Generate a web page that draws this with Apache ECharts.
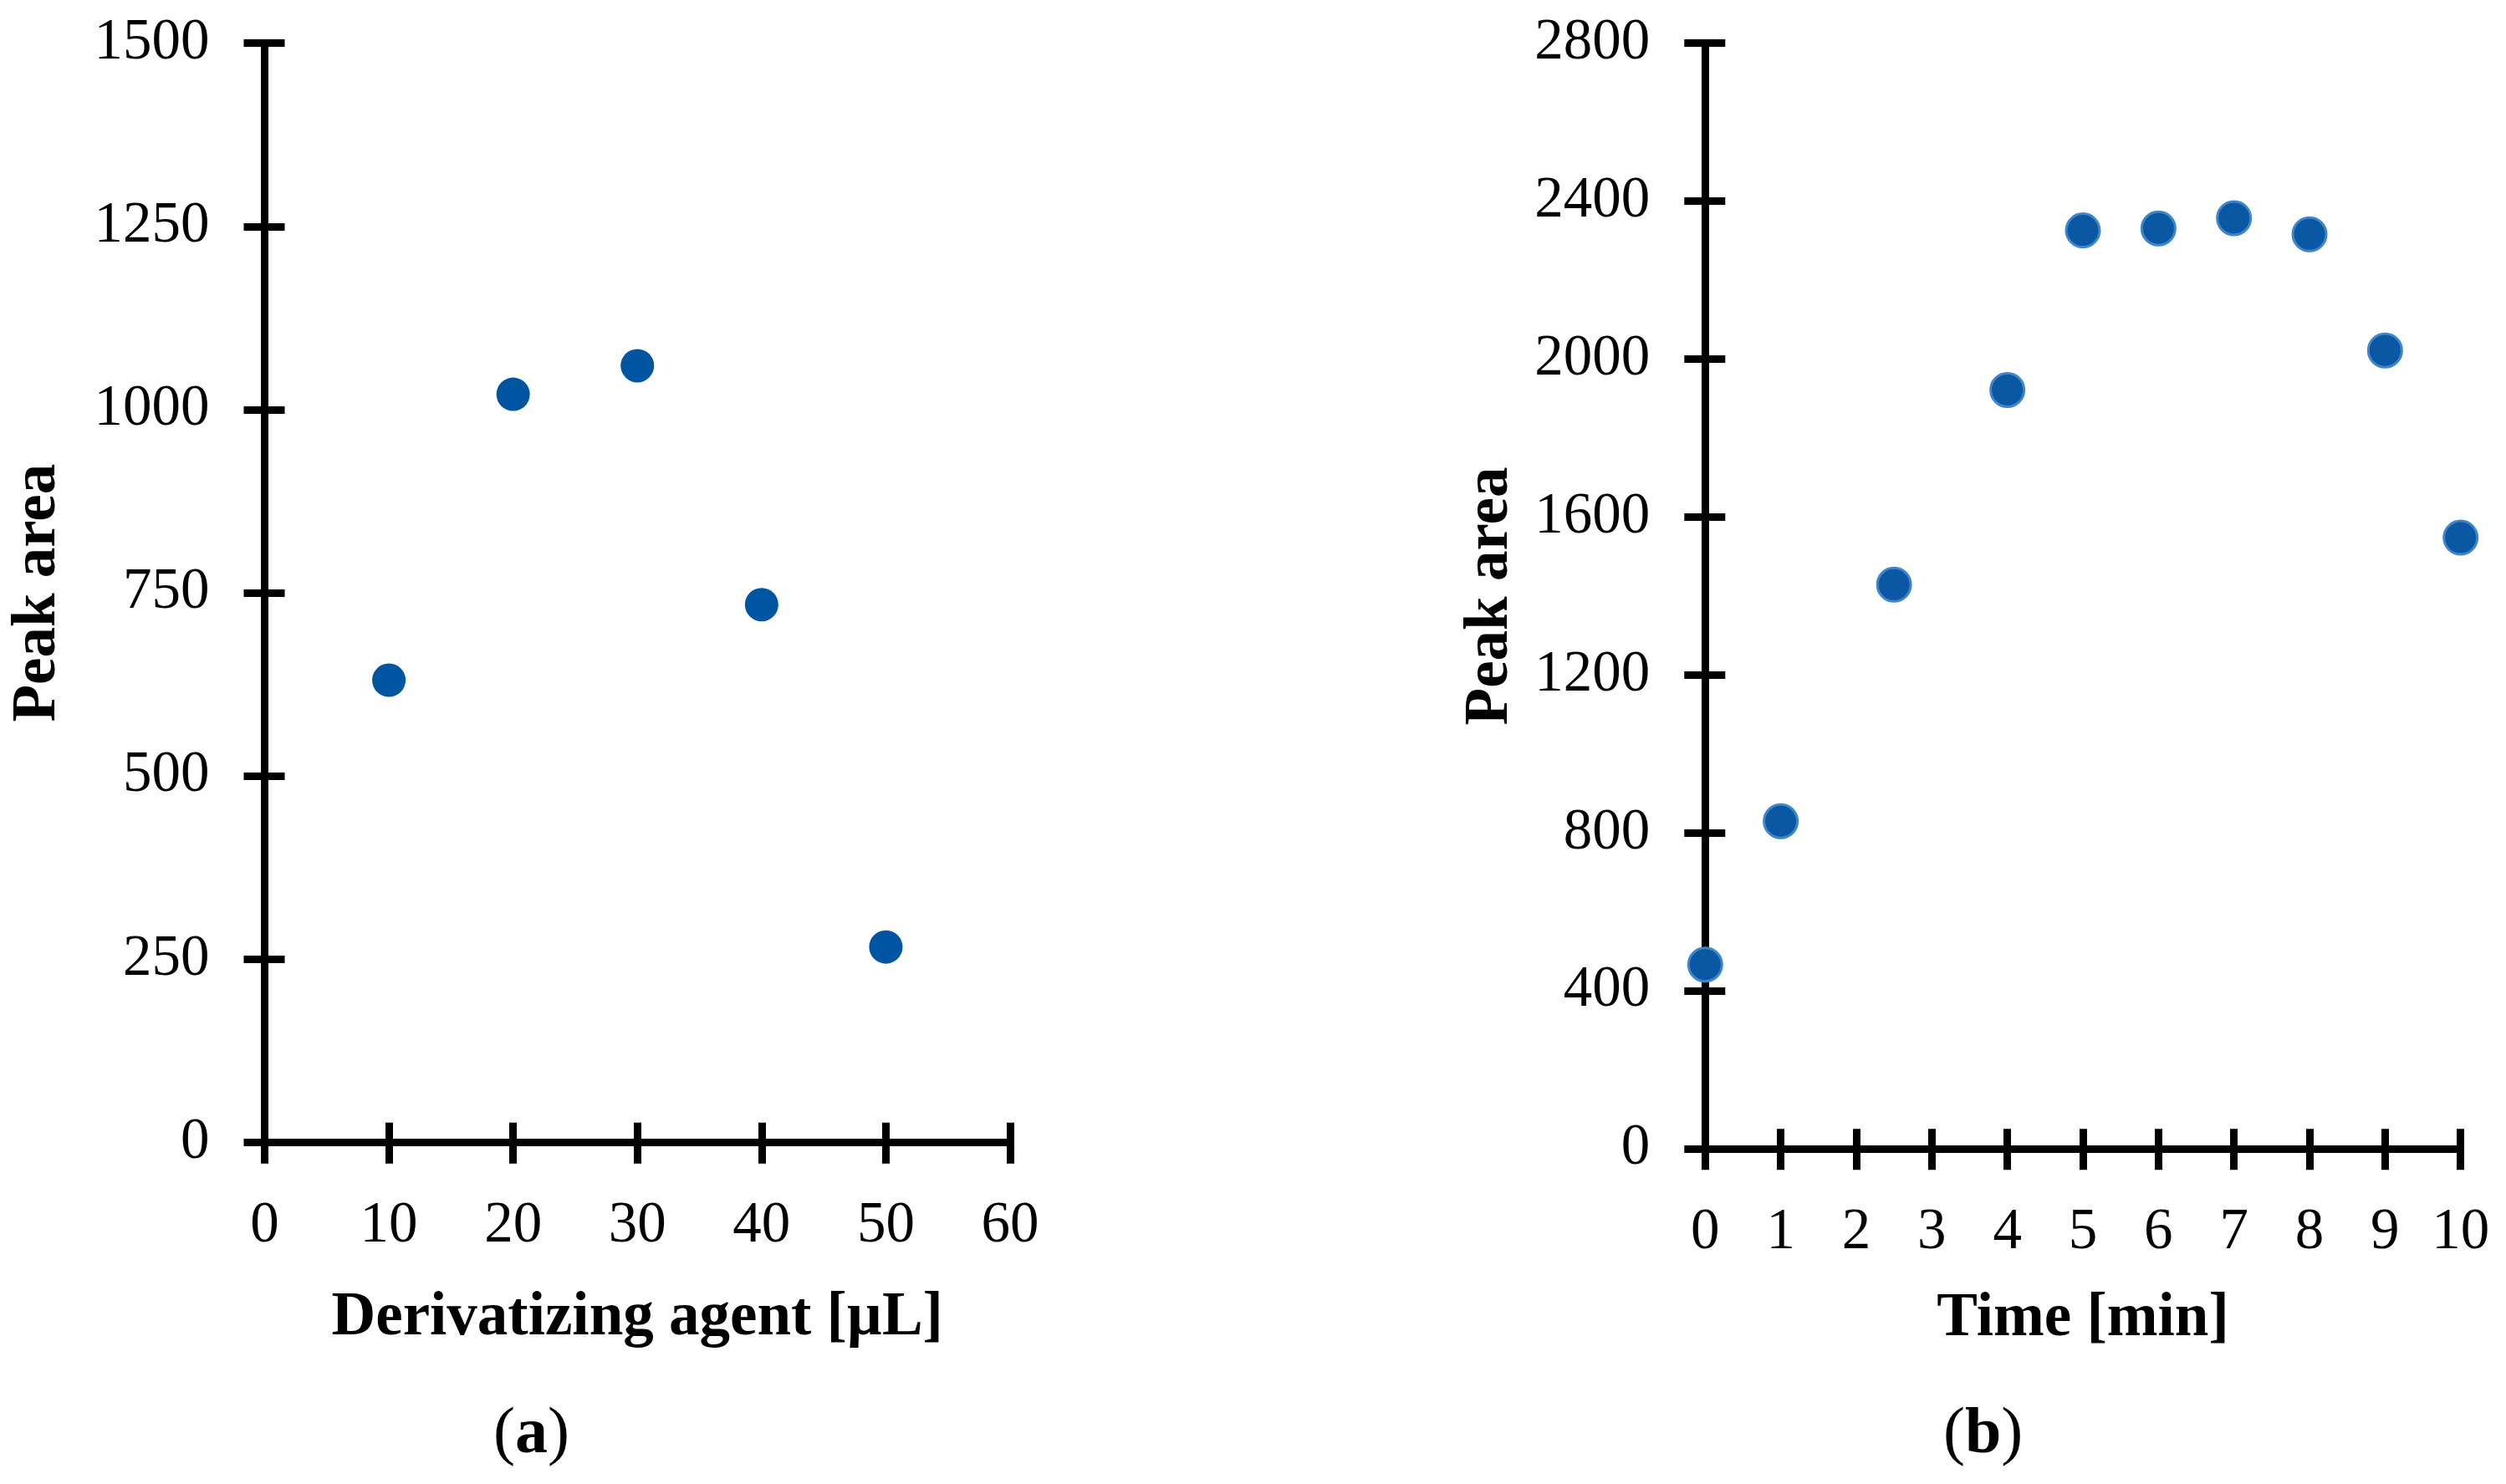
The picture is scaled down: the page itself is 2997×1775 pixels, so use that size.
<!DOCTYPE html>
<html>
<head>
<meta charset="utf-8">
<script src="https://cdn.jsdelivr.net/npm/echarts@6/dist/echarts.min.js"></script>
<style>
html,body{margin:0;padding:0;background:#fff;}
#chart{width:2997px;height:1775px;}
</style>
</head>
<body>
<div id="chart"></div>
<script>
// ---- Data ----
const agentVolume = [10, 20, 30, 40, 50];            // µL
const agentPeakArea = [631, 1021, 1060, 734, 267];
const timeMin = [0, 1, 2.5, 4, 5, 6, 7, 8, 9, 10];     // min
const timePeakArea = [467, 830, 1429, 1922, 2326, 2331, 2357, 2316, 2022, 1548];

const agentXTicks = [0, 10, 20, 30, 40, 50, 60];
const agentYTicks = [0, 250, 500, 750, 1000, 1250, 1500];
const timeXTicks = [0, 1, 2, 3, 4, 5, 6, 7, 8, 9, 10];
const timeYTicks = [0, 400, 800, 1200, 1600, 2000, 2400, 2800];

const xTitleA = 'Derivatizing agent [µL]';
const xTitleB = 'Time [min]';
const yTitle = 'Peak area';

// ---- Styles ----
const FONT = '"Liberation Serif", "DejaVu Serif", serif';
const LW = 9;
const TICKLEN = 25;

function axisPair(dim, gridIndex, ticks, name, nameGap, labelMargin) {
  const min = ticks[0], max = ticks[ticks.length - 1], interval = ticks[1] - ticks[0];
  const pos = dim === 'x' ? 'bottom' : 'left';
  const main = {
    type: 'value', gridIndex, position: pos, min, max, interval,
    axisLine: { show: true, onZero: false, lineStyle: { color: '#000', width: LW, cap: 'butt' } },
    axisTick: { show: true, inside: false, length: TICKLEN, lineStyle: { color: '#000', width: LW } },
    axisLabel: { show: true, color: '#000', fontFamily: FONT, fontSize: 69, margin: labelMargin,
                 formatter: v => String(v) },
    splitLine: { show: false },
    name, nameLocation: 'middle', nameGap,
    nameTextStyle: { color: '#000', fontFamily: FONT, fontSize: 73, fontWeight: 'bold' }
  };
  const inner = {
    type: 'value', gridIndex, position: pos, min, max, interval, offset: 0,
    axisLine: { show: false, onZero: false },
    axisTick: { show: true, inside: true, length: TICKLEN - 1, lineStyle: { color: '#000', width: LW } },
    axisLabel: { show: false },
    splitLine: { show: false }
  };
  return [main, inner];
}

const xA = axisPair('x', 0, agentXTicks, xTitleA, 174, 66);
const yA = axisPair('y', 0, agentYTicks, yTitle, 234, 66);
const xB = axisPair('x', 1, timeXTicks, xTitleB, 167, 66);
const yB = axisPair('y', 1, timeYTicks, yTitle, 220, 66);

const chart = echarts.init(document.getElementById('chart'), null, { renderer: 'canvas' });
chart.setOption({
  backgroundColor: '#fff',
  animation: false,
  grid: [
    { left: 316.5, top: 51.7, width: 891.5, height: 1315, containLabel: false },
    { left: 2039.3, top: 51.7, width: 903.4, height: 1322.6, containLabel: false }
  ],
  xAxis: [xA[0], xA[1], xB[0], xB[1]],
  yAxis: [yA[0], yA[1], yB[0], yB[1]],
  graphic: [
    { type: 'text', left: 638 - 48, top: 1723 - 45, style: {
        text: '{n|(}{b|a}{n|)}',
        rich: {
          n: { fontFamily: FONT, fontSize: 78, fill: '#000' },
          b: { fontFamily: FONT, fontSize: 78, fontWeight: 'bold', fill: '#000' }
        } } },
    { type: 'text', left: 2372 - 48, top: 1723 - 45, style: {
        text: '{n|(}{b|b}{n|)}',
        rich: {
          n: { fontFamily: FONT, fontSize: 78, fill: '#000' },
          b: { fontFamily: FONT, fontSize: 78, fontWeight: 'bold', fill: '#000' }
        } } }
  ],
  series: [
    {
      type: 'scatter', xAxisIndex: 0, yAxisIndex: 0, clip: false,
      symbol: 'circle', symbolSize: 40, z: 5,
      itemStyle: { color: '#0055A2', opacity: 1 },
      data: agentVolume.map((v, i) => [v, agentPeakArea[i]])
    },
    {
      type: 'scatter', xAxisIndex: 2, yAxisIndex: 2, clip: false,
      symbol: 'circle', symbolSize: 40, z: 5,
      itemStyle: { color: '#0A58A4', borderColor: '#3F86C9', borderWidth: 3, opacity: 1 },
      data: timeMin.map((v, i) => [v, timePeakArea[i]])
    }
  ]
});
</script>
</body>
</html>
